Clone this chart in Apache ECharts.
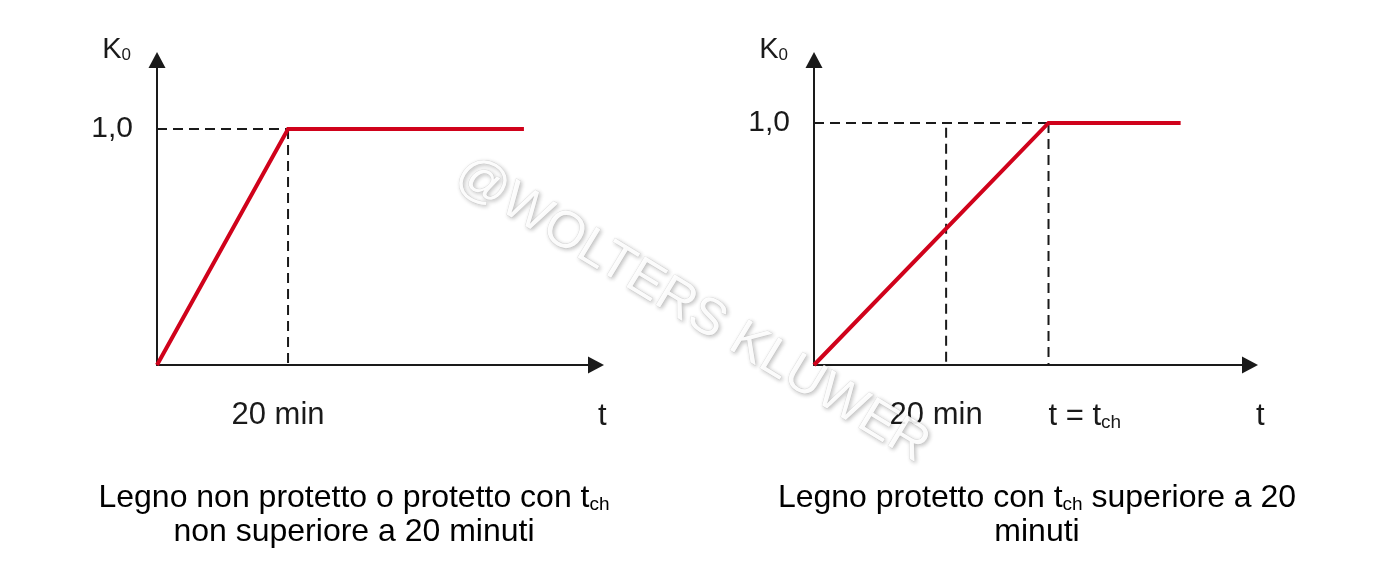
<!DOCTYPE html>
<html>
<head>
<meta charset="utf-8">
<script src="https://cdn.jsdelivr.net/npm/echarts@6/dist/echarts.min.js"></script>
<style>
html,body{margin:0;padding:0;background:#fff;}
#chart{width:1391px;height:582px;}
</style>
</head>
<body>
<div id="chart"></div>
<script>
// ---- data ----
// Left panel: unprotected wood (or t_ch <= 20 min)
const tLeft = [0, 20, 56];
const kLeft = [0, 1, 1];
// Right panel: protected wood with t_ch > 20 min
const tRight = [0, 35.5, 55.5];
const kRight = [0, 1, 1];
const t20 = 20;          // 20 min
const tch = 35.5;        // t = t_ch
const kMax = 1;          // K0 = 1,0
const tMaxLeft = 67;     // end of left time axis
const tMaxRight = 66;    // end of right time axis
const yTickLabels = ['1,0'];
const xTickLeft = ['20 min'];
const xTickRight = ['20 min'];
const xTickRightTch = ['t = t', 'ch'];
const axisNameT = 't';
const captionLeft = ['Legno non protetto o protetto con t', 'ch', 'non superiore a 20 minuti'];
const captionRight = ['Legno protetto con t', 'ch', ' superiore a 20', 'minuti'];
const watermark = '@WOLTERS KLUWER';

const FONT = '"Liberation Sans", Arial, Helvetica, sans-serif';
const RED = '#d0021b';
const INK = '#1a1a1a';
const FS = 31;
const CAP = 32;

const chart = echarts.init(document.getElementById('chart'), null, {renderer: 'canvas'});

function pairs(xs, ys) { return xs.map((x, i) => [x, ys[i]]); }

const richBase = {
  m: {fontSize: CAP, fontFamily: FONT, color: INK, verticalAlign: 'bottom', lineHeight: 34},
  s: {fontSize: 19, fontFamily: FONT, color: INK, verticalAlign: 'bottom'},
  a: {fontSize: FS, fontFamily: FONT, color: INK, padding: [0, 20, 0, 0]},
  b: {fontSize: FS, fontFamily: FONT, color: INK, verticalAlign: 'bottom', lineHeight: 34},
  bs: {fontSize: 19, fontFamily: FONT, color: INK, verticalAlign: 'bottom'},
  t: {fontSize: FS, fontFamily: FONT, color: INK, verticalAlign: 'bottom', lineHeight: 34},
  tl: {fontSize: FS, fontFamily: FONT, color: INK, verticalAlign: 'bottom', lineHeight: 34, padding: [0, 0, 0, 2]},
  tr: {fontSize: FS, fontFamily: FONT, color: INK, verticalAlign: 'bottom', lineHeight: 34, padding: [0, 0, 0, 6]}
};

const arrowLine = {show: true, onZero: false, lineStyle: {color: INK, width: 2},
                   symbol: ['none', 'triangle'], symbolSize: [17, 16]};

function xMain(gridIndex, max, customVals, labels) {
  return {
    type: 'value', gridIndex: gridIndex, min: 0, max: max, position: 'bottom',
    axisLine: arrowLine,
    axisTick: {show: false},
    splitLine: {show: false},
    axisLabel: {
      show: true, customValues: customVals, margin: 50, verticalAlign: 'middle',
      formatter: function (v) { return '{a|' + (labels[customVals.indexOf(v)] || '') + '}'; },
      rich: richBase
    }
  };
}

// secondary bottom axis carrying the left-aligned labels ("t = t_ch", "t")
function xExtra(gridIndex, max, customVals, fmt) {
  return {
    type: 'value', gridIndex: gridIndex, min: 0, max: max, position: 'bottom', offset: 0,
    axisLine: {show: false, onZero: false},
    axisTick: {show: false},
    splitLine: {show: false},
    axisLabel: {
      show: true, customValues: customVals, margin: 50, verticalAlign: 'middle', align: 'left',
      formatter: fmt, rich: richBase
    }
  };
}

function yAxisCfg(gridIndex, max) {
  return {
    type: 'value', gridIndex: gridIndex, min: 0, max: max,
    axisLine: arrowLine,
    axisTick: {show: false},
    splitLine: {show: false},
    axisLabel: {
      show: true, customValues: [kMax], margin: 24,
      formatter: function () { return yTickLabels[0]; },
      fontSize: 30, fontFamily: FONT, color: INK
    },
    name: '{k|K}{z|0}', nameLocation: 'end', nameGap: 12,
    nameTextStyle: {
      align: 'right', verticalAlign: 'middle', padding: [0, 26, 0, 0],
      rich: {
        k: {fontSize: 29, fontFamily: FONT, color: INK, verticalAlign: 'bottom', lineHeight: 32},
        z: {fontSize: 17, fontFamily: FONT, color: INK, verticalAlign: 'bottom'}
      }
    }
  };
}

const dashStyle = {color: INK, width: 2, type: [10, 6]};

function guide(idx, pts) {
  return {
    type: 'line', xAxisIndex: idx, yAxisIndex: idx, data: pts,
    symbol: 'none', silent: true, z: 1,
    lineStyle: dashStyle
  };
}

const option = {
  animation: false,
  backgroundColor: '#ffffff',
  textStyle: {fontFamily: FONT},
  grid: [
    {left: 157, top: 60, width: 439, height: 305},
    {left: 814, top: 60, width: 436, height: 305}
  ],
  xAxis: [
    xMain(0, tMaxLeft, [t20], xTickLeft),
    xMain(1, tMaxRight, [t20], xTickRight),
    xExtra(0, tMaxLeft, [tMaxLeft], function () { return '{tl|' + axisNameT + '}'; }),
    xExtra(1, tMaxRight, [tch, tMaxRight], function (v) {
      if (v === tch) return '{b|' + xTickRightTch[0] + '}{bs|' + xTickRightTch[1] + '}';
      return '{tr|' + axisNameT + '}';
    })
  ],
  yAxis: [
    yAxisCfg(0, 1.292),
    yAxisCfg(1, 1.26)
  ],
  series: [
    guide(0, [[0, kMax], [t20, kMax]]),
    guide(0, [[t20, kMax], [t20, 0]]),
    guide(1, [[0, kMax], [tch, kMax]]),
    guide(1, [[t20, kMax * 0.98], [t20, 0]]),
    guide(1, [[tch, kMax], [tch, 0]]),
    {type: 'line', xAxisIndex: 0, yAxisIndex: 0, data: pairs(tLeft, kLeft), symbol: 'none', z: 3,
     lineStyle: {color: RED, width: 4, join: 'miter'}},
    {type: 'line', xAxisIndex: 1, yAxisIndex: 1, data: pairs(tRight, kRight), symbol: 'none', z: 3,
     lineStyle: {color: RED, width: 4, join: 'miter'}}
  ],
  graphic: [
    {type: 'text', x: 354, y: 514, z: 10,
     style: {text: '{m|' + captionLeft[0] + '}{s|' + captionLeft[1] + '}\n{m|' + captionLeft[2] + '}',
             align: 'center', verticalAlign: 'middle', rich: richBase}},
    {type: 'text', x: 1037, y: 514, z: 10,
     style: {text: '{m|' + captionRight[0] + '}{s|' + captionRight[1] + '}{m|' + captionRight[2] + '}\n{m|' + captionRight[3] + '}',
             align: 'center', verticalAlign: 'middle', rich: richBase}},
    {type: 'text', x: 692, y: 310, rotation: -0.545, z: 100,
     style: {text: watermark, font: '52px ' + FONT, align: 'center', verticalAlign: 'middle',
             fill: 'rgba(255,255,255,0.9)', stroke: 'rgba(200,200,200,0.5)', lineWidth: 0.6,
             textShadowColor: 'rgba(0,0,0,0.28)', textShadowBlur: 4,
             textShadowOffsetX: 1.5, textShadowOffsetY: 1.5}}
  ]
};

chart.setOption(option);
</script>
</body>
</html>
